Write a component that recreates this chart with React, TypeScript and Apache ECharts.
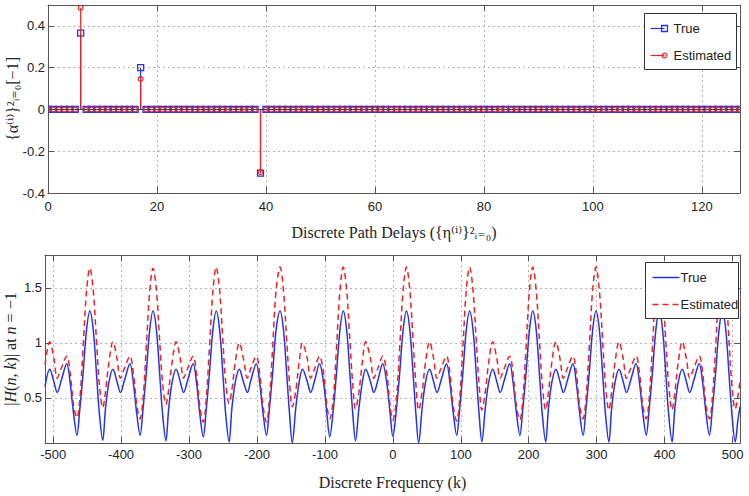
import React, { useEffect, useRef } from "react";
import * as echarts from "echarts";

// ---- Top panel: discrete path gains at n = -1 ----
const delayCount = 128;
const tapDelays = [6, 17, 39];
const trueTapValues = [0.365, 0.2, -0.305];
const estTapValues = [0.486, 0.146, -0.3];
const topXTicks = [0, 20, 40, 60, 80, 100, 120];
const topYTicks = [-0.4, -0.2, 0, 0.2, 0.4];

// ---- Bottom panel: |H(n,k)| at n = -1 ----
const freqK = [
  -512,
  -505, -499, -494, -488, -480, -475, -470, -465, -461, -456, -451,
  -446, -441, -436, -432, -427, -423, -418, -412, -406, -401, -395, -387, -382, -377, -372, -368, -363, -358,
  -353, -348, -343, -339, -334, -330, -325, -319, -313, -308, -302, -294, -289, -284, -279, -275, -270, -265,
  -260, -255, -250, -246, -241, -237, -232, -226, -220, -214, -209, -201, -196, -191, -186, -182, -177, -172,
  -166, -161, -156, -152, -148, -143, -138, -133, -126, -121, -115, -108, -102, -97, -93, -88, -83, -78,
  -73, -68, -63, -59, -55, -50, -45, -40, -33, -28, -22, -15, -9, -4, 0, 5, 10, 15,
  20, 25, 30, 34, 38, 43, 48, 54, 60, 65, 71, 79, 84, 89, 94, 98, 103, 108,
  113, 118, 123, 127, 131, 136, 141, 147, 153, 158, 164, 172, 177, 182, 187, 191, 196, 201,
  206, 211, 216, 220, 225, 229, 234, 240, 246, 251, 257, 265, 270, 275, 280, 284, 289, 294,
  299, 304, 309, 313, 318, 322, 327, 333, 339, 344, 350, 358, 363, 368, 373, 377, 382, 387,
  392, 397, 402, 406, 411, 415, 420, 426, 432, 437, 443, 451, 456, 461, 466, 470, 475, 480,
  485, 490, 495, 499, 504, 508, 511,
];
const trueMag = [
  0.6,
  0.76, 0.65, 0.55, 0.66, 0.81, 0.64, 0.36, 0.16, 0.38, 0.72, 1.11,
  1.29, 1.12, 0.7, 0.36, 0.115, 0.4, 0.64, 0.76, 0.65, 0.55, 0.66, 0.81, 0.64, 0.36, 0.16, 0.38, 0.72, 1.11,
  1.29, 1.12, 0.7, 0.36, 0.11, 0.4, 0.64, 0.76, 0.65, 0.55, 0.66, 0.81, 0.64, 0.35, 0.145, 0.37, 0.72, 1.11,
  1.29, 1.12, 0.7, 0.35, 0.1, 0.4, 0.64, 0.76, 0.65, 0.55, 0.66, 0.81, 0.64, 0.36, 0.16, 0.38, 0.72, 1.11,
  1.29, 1.12, 0.7, 0.35, 0.09, 0.4, 0.64, 0.76, 0.65, 0.55, 0.66, 0.81, 0.64, 0.35, 0.145, 0.37, 0.72, 1.11,
  1.29, 1.12, 0.7, 0.36, 0.11, 0.4, 0.64, 0.76, 0.65, 0.55, 0.66, 0.81, 0.64, 0.36, 0.15, 0.38, 0.72, 1.11,
  1.29, 1.12, 0.7, 0.35, 0.09, 0.4, 0.64, 0.76, 0.65, 0.55, 0.66, 0.81, 0.64, 0.36, 0.16, 0.38, 0.72, 1.11,
  1.29, 1.12, 0.7, 0.35, 0.1, 0.4, 0.64, 0.76, 0.65, 0.55, 0.66, 0.81, 0.64, 0.36, 0.16, 0.38, 0.72, 1.11,
  1.29, 1.12, 0.7, 0.35, 0.1, 0.4, 0.64, 0.76, 0.65, 0.55, 0.66, 0.81, 0.64, 0.36, 0.16, 0.38, 0.72, 1.11,
  1.29, 1.12, 0.7, 0.35, 0.1, 0.4, 0.64, 0.76, 0.65, 0.55, 0.66, 0.81, 0.64, 0.36, 0.16, 0.38, 0.72, 1.11,
  1.29, 1.12, 0.7, 0.35, 0.1, 0.4, 0.64, 0.76, 0.65, 0.55, 0.66, 0.81, 0.64, 0.36, 0.16, 0.38, 0.72, 1.11,
  1.29, 1.12, 0.7, 0.36, 0.1, 0.3, 0.42,
];
const estMag = [
  0.8,
  1.01, 0.86, 0.68, 0.77, 0.88, 0.73, 0.44, 0.32, 0.47, 0.95, 1.46,
  1.68, 1.48, 1.0, 0.62, 0.41, 0.55, 0.82, 1.01, 0.86, 0.68, 0.77, 0.88, 0.73, 0.44, 0.31, 0.47, 0.95, 1.46,
  1.68, 1.48, 1.0, 0.64, 0.44, 0.57, 0.82, 1.01, 0.86, 0.68, 0.77, 0.88, 0.72, 0.42, 0.28, 0.46, 0.95, 1.46,
  1.69, 1.48, 1.0, 0.64, 0.45, 0.57, 0.82, 1.0, 0.86, 0.68, 0.77, 0.88, 0.72, 0.42, 0.28, 0.46, 0.95, 1.47,
  1.69, 1.48, 1.0, 0.63, 0.42, 0.56, 0.82, 1.0, 0.86, 0.68, 0.77, 0.88, 0.73, 0.43, 0.31, 0.47, 0.95, 1.47,
  1.69, 1.48, 1.0, 0.62, 0.4, 0.55, 0.82, 1.01, 0.86, 0.68, 0.77, 0.88, 0.73, 0.43, 0.3, 0.47, 0.95, 1.47,
  1.69, 1.48, 1.0, 0.62, 0.39, 0.55, 0.82, 1.01, 0.86, 0.68, 0.77, 0.88, 0.72, 0.42, 0.29, 0.46, 0.95, 1.47,
  1.69, 1.48, 1.0, 0.62, 0.39, 0.55, 0.82, 1.01, 0.86, 0.68, 0.77, 0.88, 0.72, 0.42, 0.3, 0.46, 0.95, 1.47,
  1.69, 1.48, 1.0, 0.62, 0.39, 0.55, 0.82, 1.01, 0.86, 0.68, 0.77, 0.88, 0.73, 0.43, 0.31, 0.47, 0.95, 1.47,
  1.69, 1.48, 1.0, 0.62, 0.39, 0.55, 0.82, 1.01, 0.86, 0.68, 0.77, 0.88, 0.73, 0.43, 0.31, 0.47, 0.95, 1.47,
  1.69, 1.48, 1.0, 0.62, 0.39, 0.55, 0.82, 1.01, 0.86, 0.68, 0.77, 0.88, 0.73, 0.43, 0.31, 0.47, 0.95, 1.47,
  1.69, 1.48, 1.0, 0.62, 0.4, 0.52, 0.65,
];
const bottomXTicks = [-500, -400, -300, -200, -100, 0, 100, 200, 300, 400, 500];
const bottomYTicks = [0.5, 1, 1.5];

const BLUE = "#2233ee";
const RED = "#ee2222";
const AXIS = "#555";
const GRIDC = "#b4b4b4";
const SANS = "Liberation Sans, Arial, sans-serif";
const SERIF = "Liberation Serif, DejaVu Serif, serif";

function buildTaps(values: number[]) {
  const arr: number[][] = [];
  for (let i = 0; i < delayCount; i++) {
    const idx = tapDelays.indexOf(i);
    arr.push([i, idx >= 0 ? values[idx] : 0]);
  }
  return arr;
}

function stemRenderer(color: string, marker: "square" | "circle") {
  return (params: any, api: any) => {
    const x = api.value(0);
    const v = api.value(1);
    const base = api.coord([x, 0]);
    const tip = api.coord([x, v]);
    const children: any[] = [
      {
        type: "line",
        shape: { x1: base[0], y1: base[1], x2: tip[0], y2: tip[1] },
        style: { stroke: color, lineWidth: 1.2 },
      },
    ];
    if (marker === "square") {
      children.push({
        type: "rect",
        shape: { x: tip[0] - 3, y: tip[1] - 3, width: 6, height: 6 },
        style: { stroke: color, fill: "none", lineWidth: 1.3 },
      });
    } else {
      children.push({
        type: "circle",
        shape: { cx: tip[0], cy: tip[1], r: 2.4 },
        style: { stroke: color, fill: "none", lineWidth: 1.2 },
      });
    }
    return { type: "group", children };
  };
}

function mainXAxis(gridIndex: number, min: number, max: number, ticks: number[], name: string, nameGap: number, labelMargin: number) {
  return {
    type: "value",
    gridIndex,
    min,
    max,
    position: "bottom",
    name,
    nameLocation: "middle",
    nameGap,
    nameTextStyle: { fontFamily: SERIF, fontSize: 16, color: "#222" },
    axisLine: { show: true, onZero: false, lineStyle: { color: AXIS, width: 1 } },
    axisTick: { show: true, inside: true, length: 6, customValues: ticks, lineStyle: { color: AXIS } },
    axisLabel: { show: true, customValues: ticks, margin: labelMargin, fontFamily: SANS, fontSize: 13, color: "#222" },
    splitLine: { show: true, lineStyle: { color: GRIDC, type: [2, 3], width: 1 } },
  };
}
function boxXAxis(gridIndex: number, min: number, max: number, ticks: number[]) {
  return {
    type: "value",
    gridIndex,
    min,
    max,
    position: "top",
    axisLine: { show: true, onZero: false, lineStyle: { color: AXIS, width: 1 } },
    axisTick: { show: true, inside: true, length: 6, customValues: ticks, lineStyle: { color: AXIS } },
    axisLabel: { show: false },
    splitLine: { show: false },
  };
}
function mainYAxis(gridIndex: number, min: number, max: number, ticks: number[], name: any, nameGap: number, rich?: any) {
  return {
    type: "value",
    gridIndex,
    min,
    max,
    position: "left",
    name,
    nameLocation: "middle",
    nameRotate: 90,
    nameGap,
    nameMoveOverlap: false,
    nameTextStyle: { fontFamily: SERIF, fontSize: 16, color: "#222", rich },
    axisLine: { show: true, onZero: false, lineStyle: { color: AXIS, width: 1 } },
    axisTick: { show: true, inside: true, length: 6, customValues: ticks, lineStyle: { color: AXIS } },
    axisLabel: { show: true, customValues: ticks, margin: 3, fontFamily: SANS, fontSize: 13, color: "#222" },
    splitLine: { show: true, lineStyle: { color: GRIDC, type: [2, 3], width: 1 } },
  };
}
function boxYAxis(gridIndex: number, min: number, max: number, ticks: number[]) {
  return {
    type: "value",
    gridIndex,
    min,
    max,
    position: "right",
    axisLine: { show: true, onZero: false, lineStyle: { color: AXIS, width: 1 } },
    axisTick: { show: true, inside: true, length: 6, customValues: ticks, lineStyle: { color: AXIS } },
    axisLabel: { show: false },
    splitLine: { show: false },
  };
}

function legendGroup(left: number, top: number, width: number, items: any[]) {
  return {
    type: "group",
    left,
    top,
    z: 100,
    children: [
      { type: "rect", z: 100, shape: { x: 0, y: 0, width, height: 56 }, style: { fill: "#fff", stroke: "#333", lineWidth: 1 } },
      ...items.map((it: any) => ({ ...it, z: 101 })),
    ],
  };
}

export default function App() {
  const ref = useRef<HTMLDivElement>(null);
  useEffect(() => {
    if (!ref.current) return;
    const chart = echarts.init(ref.current, undefined, { renderer: "svg" });
    const trueTaps = buildTaps(trueTapValues);
    const estTaps = buildTaps(estTapValues);
    const txt = (x: number, y: number, text: string) => ({
      type: "text",
      x,
      y,
      style: { text, font: "13px " + SANS, fill: "#222", textVerticalAlign: "middle" },
    });
    const option: any = {
      animation: false,
      backgroundColor: "#ffffff",
      grid: [
        { left: 48, top: 5, right: 9, height: 188, containLabel: false, outerBoundsMode: "none" },
        { left: 45, top: 255, right: 9, height: 188, containLabel: false, outerBoundsMode: "none" },
      ],
      xAxis: [
        mainXAxis(0, 0, 127, topXTicks, "Discrete Path Delays ({η⁽ⁱ⁾}²ᵢ₌₀)", 31, 7),
        boxXAxis(0, 0, 127, topXTicks),
        mainXAxis(1, -512, 511, bottomXTicks, "Discrete Frequency (k)", 31, 5),
        boxXAxis(1, -512, 511, bottomXTicks),
      ],
      yAxis: [
        mainYAxis(0, -0.4, 0.5, topYTicks, "{α⁽ⁱ⁾}²ᵢ₌₀[−1]", 28),
        boxYAxis(0, -0.4, 0.5, topYTicks),
        mainYAxis(1, 0.09, 1.8, bottomYTicks, "|{it|H}({it|n}, {it|k})| at {it|n} = −1", 27, {
          it: { fontStyle: "italic", fontFamily: SERIF, fontSize: 16, color: "#222" },
        }),
        boxYAxis(1, 0.09, 1.8, bottomYTicks),
      ],
      series: [
        {
          name: "True",
          type: "custom",
          xAxisIndex: 0,
          yAxisIndex: 0,
          clip: true,
          data: trueTaps,
          encode: { x: 0, y: 1 },
          renderItem: stemRenderer(BLUE, "square"),
          markLine: {
            silent: true,
            symbol: "none",
            label: { show: false },
            lineStyle: { color: "#444", width: 1, type: "solid" },
            data: [{ yAxis: 0 }],
          },
          z: 3,
        },
        {
          name: "Estimated",
          type: "custom",
          xAxisIndex: 0,
          yAxisIndex: 0,
          clip: true,
          data: estTaps,
          encode: { x: 0, y: 1 },
          renderItem: stemRenderer(RED, "circle"),
          z: 4,
        },
        {
          name: "True",
          type: "line",
          xAxisIndex: 2,
          yAxisIndex: 2,
          data: freqK.map((k, i) => [k, trueMag[i]]),
          showSymbol: false,
          smooth: 0.35,
          lineStyle: { color: BLUE, width: 1.5 },
          z: 3,
        },
        {
          name: "Estimated",
          type: "line",
          xAxisIndex: 2,
          yAxisIndex: 2,
          data: freqK.map((k, i) => [k, estMag[i]]),
          showSymbol: false,
          smooth: 0.35,
          lineStyle: { color: RED, width: 1.5, type: [6, 4] },
          z: 4,
        },
      ],
      graphic: {
        elements: [
          legendGroup(644, 13, 92, [
            { type: "line", shape: { x1: 6, y1: 15, x2: 20, y2: 15 }, style: { stroke: BLUE, lineWidth: 1.2 } },
            { type: "rect", shape: { x: 17, y: 12, width: 6, height: 6 }, style: { stroke: BLUE, fill: "none", lineWidth: 1.3 } },
            txt(29, 15, "True"),
            { type: "line", shape: { x1: 6, y1: 42, x2: 20, y2: 42 }, style: { stroke: RED, lineWidth: 1.2 } },
            { type: "circle", shape: { cx: 20, cy: 42, r: 2.4 }, style: { stroke: RED, fill: "none", lineWidth: 1.2 } },
            txt(29, 42, "Estimated"),
          ]),
          legendGroup(645, 262, 93, [
            { type: "line", shape: { x1: 7, y1: 15, x2: 34, y2: 15 }, style: { stroke: BLUE, lineWidth: 1.5 } },
            txt(35, 15, "True"),
            { type: "line", shape: { x1: 7, y1: 42, x2: 34, y2: 42 }, style: { stroke: RED, lineWidth: 1.5, lineDash: [6, 4] } },
            txt(35, 42, "Estimated"),
          ]),
        ],
      },
    };
    chart.setOption(option);
    return () => chart.dispose();
  }, []);
  return (
    <div
      ref={ref}
      style={{ position: "fixed", left: 0, top: 0, width: 749, height: 496, background: "#fff" }}
    />
  );
}
